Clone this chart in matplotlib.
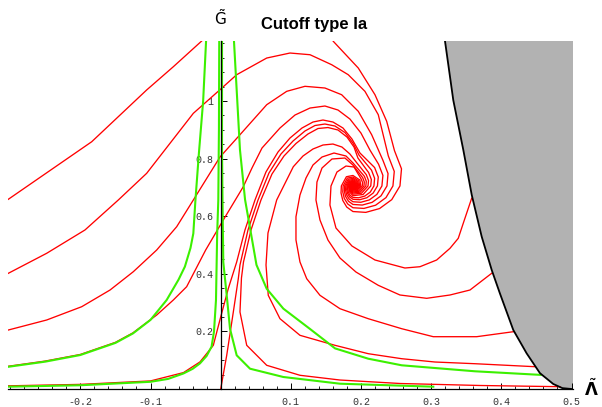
import matplotlib
matplotlib.use("Agg")
import matplotlib.pyplot as plt
from matplotlib.ticker import FixedLocator, MultipleLocator

# ---- data (lambda, G) ----
# boundary of the shaded region
boundary = [(0.314, 1.30), (0.3197, 1.208), (0.3315, 1.003), (0.3458, 0.830), (0.3578, 0.674),
            (0.372, 0.529), (0.3863, 0.413), (0.398, 0.3316), (0.417, 0.205), (0.436, 0.124),
            (0.455, 0.055), (0.474, 0.0174), (0.487, 0.003), (0.5, 0.0)]

# separatrices (green)
green_a = [(-0.303, 0.077), (-0.25, 0.095), (-0.2, 0.118), (-0.15, 0.160), (-0.125, 0.193),
           (-0.1, 0.240), (-0.077, 0.309), (-0.06, 0.38), (-0.051, 0.425), (-0.043, 0.49),
           (-0.039, 0.54), (-0.036, 0.656), (-0.031, 0.82), (-0.025, 1.0), (-0.020, 1.25)]
green_b = [(-0.303, 0.008), (-0.2, 0.013), (-0.1, 0.025), (-0.075, 0.035), (-0.053, 0.054),
           (-0.04, 0.07), (-0.0295, 0.089), (-0.02, 0.115), (-0.013, 0.147), (-0.0095, 0.2),
           (-0.0067, 0.309), (-0.005, 0.54), (-0.0034, 0.656), (-0.0025, 0.9), (-0.002, 1.25)]
green_c = [(0.0019, 1.25), (0.0019, 0.83), (0.0026, 0.656), (0.0037, 0.441), (0.0086, 0.325),
           (0.0133, 0.209), (0.0228, 0.117), (0.0418, 0.0705), (0.0892, 0.0417), (0.170, 0.0184),
           (0.303, 0.008)]
green_d = [(0.0180, 1.25), (0.0275, 0.83), (0.0347, 0.658), (0.051, 0.431), (0.0656, 0.348),
           (0.0893, 0.279), (0.127, 0.209), (0.163, 0.141), (0.2103, 0.1052), (0.258, 0.0823),
           (0.3624, 0.0615), (0.456, 0.049)]

# trajectories (red): outer parts
r1_outer = [(-0.3027, 0.6587), (-0.1838, 0.8586), (-0.1055, 1.0383), (-0.0675, 1.1190),
            (-0.0271, 1.2083), (0.0061, 1.2985), (0.0845, 1.3506), (0.1415, 1.2742),
            (0.1605, 1.2072), (0.1961, 1.1145), (0.2199, 1.0218), (0.2366, 0.9295)]
r2_outer = [(-0.3027, 0.4017), (-0.2480, 0.4712), (-0.1934, 0.5522), (-0.1459, 0.6563),
            (-0.1055, 0.7489), (-0.0390, 0.9572), (-0.0010, 1.0392), (0.0228, 1.0913),
            (0.0656, 1.1492), (0.0988, 1.1666), (0.1273, 1.1607), (0.1582, 1.1260),
            (0.1818, 1.0913), (0.2056, 1.0336), (0.2246, 0.9524)]
r3_outer = [(-0.3027, 0.2048), (-0.2480, 0.2396), (-0.1981, 0.2857), (-0.1577, 0.3437),
            (-0.1245, 0.4073), (-0.0912, 0.4826), (-0.0627, 0.5635), (-0.0390, 0.6562),
            (-0.0010, 0.8055), (0.0275, 0.8829), (0.0656, 0.9871), (0.0941, 1.0336),
            (0.1201, 1.0510), (0.1486, 1.0451), (0.1724, 1.0218), (0.1961, 0.9642),
            (0.2152, 0.8829)]
r4_outer = [(-0.3027, 0.079), (-0.25, 0.097), (-0.2, 0.120), (-0.15, 0.162), (-0.125, 0.195),
            (-0.0912, 0.2569), (-0.0675, 0.3090), (-0.0485, 0.3552), (-0.0214, 0.4826),
            (0.0037, 0.5868), (0.0180, 0.6447), (0.0322, 0.7024), (0.0446, 0.7673),
            (0.0589, 0.8368), (0.0845, 0.9062), (0.1059, 0.9513), (0.1273, 0.9756),
            (0.1486, 0.9826), (0.1672, 0.9687), (0.1842, 0.9374), (0.1999, 0.8888),
            (0.2127, 0.8298)]
r5_outer = [(-0.3027, 0.011), (-0.2, 0.016), (-0.1, 0.028), (-0.053, 0.057), (-0.0295, 0.094),
            (-0.0105, 0.1517), (0.0, 0.25), (0.0108, 0.3483), (0.0228, 0.441), (0.0346, 0.5520),
            (0.0489, 0.6562), (0.0645, 0.7534), (0.0817, 0.8229), (0.0988, 0.8715),
            (0.1159, 0.9062), (0.1315, 0.9270), (0.1458, 0.9340), (0.1600, 0.9270),
            (0.1743, 0.9062), (0.1871, 0.8680), (0.1985, 0.8194)]
o_outer = [(0.0, 0.0), (0.0086, 0.117), (0.018, 0.2674), (0.0251, 0.383), (0.0275, 0.4306),
           (0.0389, 0.5520), (0.0532, 0.6562), (0.0688, 0.7499), (0.0859, 0.8159),
           (0.1031, 0.8611), (0.1201, 0.8958), (0.1344, 0.9149), (0.1486, 0.9201),
           (0.1629, 0.9131), (0.1771, 0.8906), (0.1885, 0.8541), (0.1971, 0.8124)]
c5_outer = [(0.4836, 0.0080), (0.3695, 0.0122), (0.2555, 0.0191), (0.1700, 0.0312),
            (0.1130, 0.0476), (0.0656, 0.0823), (0.0371, 0.1517), (0.0275, 0.2674),
            (0.0296, 0.3854), (0.0325, 0.4410), (0.0432, 0.5520), (0.0574, 0.6562),
            (0.0731, 0.7465), (0.0902, 0.8090), (0.1073, 0.8524), (0.1244, 0.8854),
            (0.1387, 0.9045), (0.1529, 0.9079), (0.1672, 0.8993), (0.1800, 0.8749),
            (0.1900, 0.8402), (0.1956, 0.8020)]
c4_outer = [(0.448, 0.0774), (0.3624, 0.0878), (0.3054, 0.0937), (0.2579, 0.1052),
            (0.2103, 0.1226), (0.1629, 0.1517), (0.1130, 0.1864), (0.0845, 0.2441),
            (0.0678, 0.3253), (0.0646, 0.4306), (0.0674, 0.5416), (0.0798, 0.6562),
            (0.1035, 0.7718), (0.1173, 0.8090), (0.1315, 0.8333), (0.1458, 0.8472),
            (0.1600, 0.8506), (0.1728, 0.8402), (0.1842, 0.8159), (0.1942, 0.7847)]
c3_outer = [(0.4170, 0.1989), (0.3648, 0.1816), (0.3030, 0.1816), (0.2579, 0.2094),
            (0.2103, 0.2441), (0.1700, 0.2788), (0.1415, 0.3253), (0.1226, 0.3830),
            (0.1130, 0.4410), (0.1073, 0.5173), (0.1073, 0.5982), (0.1130, 0.6736),
            (0.1216, 0.7326), (0.1315, 0.7777), (0.1444, 0.8055), (0.1615, 0.8194),
            (0.1786, 0.8090), (0.1886, 0.7847)]
c2_outer = [(0.3862, 0.4017), (0.3553, 0.3437), (0.3268, 0.3264), (0.2936, 0.3149),
            (0.2555, 0.3264), (0.2246, 0.3600), (0.1928, 0.4062), (0.1700, 0.4548),
            (0.1529, 0.5173), (0.1415, 0.5868), (0.1358, 0.6562), (0.1372, 0.7187),
            (0.1444, 0.7673), (0.1586, 0.7986), (0.1771, 0.8020), (0.1885, 0.7777)]
c1_outer = [(0.3577, 0.6621), (0.3457, 0.5753), (0.3386, 0.5232), (0.3268, 0.4885),
            (0.3078, 0.4479), (0.2840, 0.4246), (0.2626, 0.4201), (0.2199, 0.4479),
            (0.1871, 0.4965), (0.1643, 0.5590), (0.1557, 0.6389), (0.1572, 0.7048),
            (0.1657, 0.7534), (0.1786, 0.7742), (0.1900, 0.7708)]

# trajectories (red): windings into the fixed point near (0.19, 0.70)
r1_spiral_lam = [0.2477, 0.2577, 0.2555, 0.2438, 0.2264, 0.2068, 0.1885, 0.1797, 0.1740, 0.1715, 0.1720, 0.1792,
                 0.1885, 0.1984, 0.1997, 0.1948, 0.1885, 0.1861, 0.1858, 0.1869, 0.1885, 0.1902, 0.1904]
r1_spiral_g = [0.8276, 0.7644, 0.7050, 0.6575, 0.6265, 0.6133, 0.6162, 0.6317, 0.6548, 0.6807, 0.7050, 0.7371,
               0.7414, 0.7255, 0.7050, 0.6918, 0.6901, 0.6965, 0.7050, 0.7104, 0.7110, 0.7084, 0.7050]
r2_spiral_lam = [0.2389, 0.2474, 0.2455, 0.2356, 0.2208, 0.2041, 0.1885, 0.1810, 0.1761, 0.1740, 0.1745, 0.1806,
                 0.1885, 0.1969, 0.1981, 0.1939, 0.1885, 0.1865, 0.1862, 0.1872, 0.1885, 0.1899, 0.1901]
r2_spiral_g = [0.8093, 0.7556, 0.7050, 0.6646, 0.6382, 0.6270, 0.6294, 0.6426, 0.6622, 0.6843, 0.7050, 0.7324,
               0.7360, 0.7225, 0.7050, 0.6938, 0.6924, 0.6978, 0.7050, 0.7096, 0.7101, 0.7079, 0.7050]
r3_spiral_lam = [0.2313, 0.2385, 0.2370, 0.2285, 0.2159, 0.2018, 0.1885, 0.1821, 0.1780, 0.1762, 0.1766, 0.1818,
                 0.1885, 0.1957, 0.1966, 0.1931, 0.1885, 0.1868, 0.1865, 0.1874, 0.1885, 0.1897, 0.1899]
r3_spiral_g = [0.7937, 0.7480, 0.7050, 0.6707, 0.6482, 0.6387, 0.6408, 0.6520, 0.6687, 0.6874, 0.7050, 0.7283,
               0.7313, 0.7199, 0.7050, 0.6954, 0.6943, 0.6988, 0.7050, 0.7089, 0.7094, 0.7075, 0.7050]
r4_spiral_lam = [0.2250, 0.2312, 0.2298, 0.2226, 0.2119, 0.1998, 0.1885, 0.1830, 0.1795, 0.1780, 0.1783, 0.1828,
                 0.1885, 0.1946, 0.1954, 0.1924, 0.1885, 0.1870, 0.1868, 0.1875, 0.1885, 0.1895, 0.1897]
r4_spiral_g = [0.7806, 0.7417, 0.7050, 0.6757, 0.6566, 0.6484, 0.6502, 0.6598, 0.6740, 0.6900, 0.7050, 0.7248,
               0.7274, 0.7177, 0.7050, 0.6969, 0.6958, 0.6998, 0.7050, 0.7083, 0.7087, 0.7071, 0.7050]
r5_spiral_lam = [0.2194, 0.2246, 0.2234, 0.2173, 0.2083, 0.1981, 0.1885, 0.1839, 0.1809, 0.1796, 0.1799, 0.1836,
                 0.1885, 0.1937, 0.1944, 0.1918, 0.1885, 0.1873, 0.1871, 0.1877, 0.1885, 0.1894, 0.1895]
r5_spiral_g = [0.7689, 0.7360, 0.7050, 0.6803, 0.6641, 0.6572, 0.6587, 0.6668, 0.6788, 0.6923, 0.7050, 0.7218,
               0.7240, 0.7157, 0.7050, 0.6981, 0.6973, 0.7006, 0.7050, 0.7078, 0.7081, 0.7068, 0.7050]
o_spiral_lam = [0.2150, 0.2194, 0.2184, 0.2132, 0.2054, 0.1967, 0.1885, 0.1846, 0.1820, 0.1809, 0.1811, 0.1843,
                0.1885, 0.1929, 0.1935, 0.1913, 0.1885, 0.1874, 0.1873, 0.1878, 0.1885]
o_spiral_g = [0.7598, 0.7315, 0.7050, 0.6838, 0.6699, 0.6640, 0.6653, 0.6723, 0.6826, 0.6941, 0.7050, 0.7194,
              0.7213, 0.7142, 0.7050, 0.6991, 0.6984, 0.7012, 0.7050, 0.7074, 0.7077]
c5_spiral_lam = [0.2109, 0.2147, 0.2139, 0.2029, 0.1885, 0.1830, 0.1823, 0.1850, 0.1885, 0.1923, 0.1928,
                 0.1909, 0.1885, 0.1876, 0.1875]
c5_spiral_g = [0.7514, 0.7275, 0.7050, 0.6753, 0.6714, 0.6860, 0.7050, 0.7172, 0.7188, 0.7128, 0.7050,
               0.7000, 0.6994, 0.7018, 0.7050]
c4_spiral_lam = [0.2075, 0.2107, 0.2100, 0.2007, 0.1885, 0.1838, 0.1832, 0.1855, 0.1885, 0.1917, 0.1921,
                 0.1885, 0.1876]
c4_spiral_g = [0.7444, 0.7241, 0.7050, 0.6798, 0.6765, 0.6889, 0.7050, 0.7153, 0.7167, 0.7116, 0.7050,
               0.7002, 0.7050]
c3_spiral_lam = [0.2048, 0.2075, 0.2069, 0.1989, 0.1885, 0.1845, 0.1840, 0.1859, 0.1885, 0.1912, 0.1916, 0.1885]
c3_spiral_g = [0.7386, 0.7213, 0.7050, 0.6835, 0.6806, 0.6912, 0.7050, 0.7138, 0.7150, 0.7106, 0.7050, 0.7009]
c2_spiral_lam = [0.2024, 0.2047, 0.2042, 0.1974, 0.1885, 0.1851, 0.1846, 0.1863, 0.1885, 0.1908, 0.1911]
c2_spiral_g = [0.7337, 0.7189, 0.7050, 0.6866, 0.6842, 0.6932, 0.7050, 0.7125, 0.7135, 0.7098, 0.7050]
c1_spiral_lam = [0.2002, 0.2022, 0.2018, 0.1960, 0.1885, 0.1856, 0.1852, 0.1867, 0.1885, 0.1905, 0.1907]
c1_spiral_g = [0.7293, 0.7168, 0.7050, 0.6895, 0.6874, 0.6951, 0.7050, 0.7114, 0.7122, 0.7091, 0.7050]

x_ticks = [-0.2, -0.1, 0.1, 0.2, 0.3, 0.4, 0.5]
x_labels = ["-0.2", "-0.1", "0.1", "0.2", "0.3", "0.4", "0.5"]
y_ticks = [0.2, 0.4, 0.6, 0.8, 1.0]
y_labels = ["0.2", "0.4", "0.6", "0.8", "1"]

RED = "#ff0000"
GREEN = "#3cf000"
GRAY = "#b2b2b2"


def split(points):
    return [p[0] for p in points], [p[1] for p in points]


fig = plt.figure(figsize=(6.02, 4.07), dpi=100)
ax = fig.add_axes([0.01379, 0.04423, 0.9380, 0.8550])
ax.set_xlim(-0.3027, 0.5021)
ax.set_ylim(0, 1.2083)

# shaded region
bx, by = split(boundary)
ax.fill(bx + [0.6, 0.6], by + [0.0, 1.4], color=GRAY, lw=0, zorder=1)

# red trajectories
pairs = [
    (r1_outer, r1_spiral_lam, r1_spiral_g),
    (r2_outer, r2_spiral_lam, r2_spiral_g),
    (r3_outer, r3_spiral_lam, r3_spiral_g),
    (r4_outer, r4_spiral_lam, r4_spiral_g),
    (r5_outer, r5_spiral_lam, r5_spiral_g),
    (o_outer, o_spiral_lam, o_spiral_g),
    (c5_outer, c5_spiral_lam, c5_spiral_g),
    (c4_outer, c4_spiral_lam, c4_spiral_g),
    (c3_outer, c3_spiral_lam, c3_spiral_g),
    (c2_outer, c2_spiral_lam, c2_spiral_g),
    (c1_outer, c1_spiral_lam, c1_spiral_g),
]
for outer, slam, sg in pairs:
    ox, oy = split(outer)
    ax.plot(ox + slam, oy + sg, color=RED, lw=0.95, zorder=2, solid_joinstyle="round")

# green separatrices
for sep in [green_a, green_b, green_c, green_d]:
    gx, gy = split(sep)
    ax.plot(gx, gy, color=GREEN, lw=1.5, zorder=3)

ax.plot(bx, by, color="black", lw=1.3, zorder=4)

# Mathematica style axes through the origin
for side in ["top", "right"]:
    ax.spines[side].set_visible(False)
ax.spines["left"].set_position(("data", 0))
ax.spines["bottom"].set_position(("data", 0))
ax.spines["left"].set_zorder(5)
ax.spines["bottom"].set_zorder(5)
ax.spines["left"].set_linewidth(0.9)
ax.spines["bottom"].set_linewidth(0.9)

ax.xaxis.set_major_locator(FixedLocator(x_ticks))
ax.xaxis.set_minor_locator(MultipleLocator(0.02))
ax.yaxis.set_major_locator(FixedLocator(y_ticks))
ax.yaxis.set_minor_locator(MultipleLocator(0.05))
ax.set_xticklabels(x_labels)
ax.set_yticklabels(y_labels)
for lab in ax.get_xticklabels() + ax.get_yticklabels():
    lab.set_family("Liberation Mono")
    lab.set_fontsize(7.2)
    lab.set_color("#333333")
ax.tick_params(axis="x", which="major", direction="in", length=4, width=0.7, pad=6)
ax.tick_params(axis="x", which="minor", direction="in", length=2.2, width=0.6)
ax.tick_params(axis="y", which="major", direction="in", length=4, width=0.7, pad=5)
ax.tick_params(axis="y", which="minor", direction="in", length=2.2, width=0.6)
ax.patch.set_alpha(0)

fig.text(0.521, 0.9386, "Cutoff type Ia", ha="center", va="center",
         fontsize=12, fontweight="bold", family="Liberation Sans")
fig.text(0.3655, 0.9558, r"$\tilde{\mathrm{G}}$", ha="center", va="center", fontsize=11)
fig.text(0.982, 0.043, r"$\tilde{\mathbf{\Lambda}}$", ha="center", va="center", fontsize=12)

fig.savefig("out.png", dpi=100)
